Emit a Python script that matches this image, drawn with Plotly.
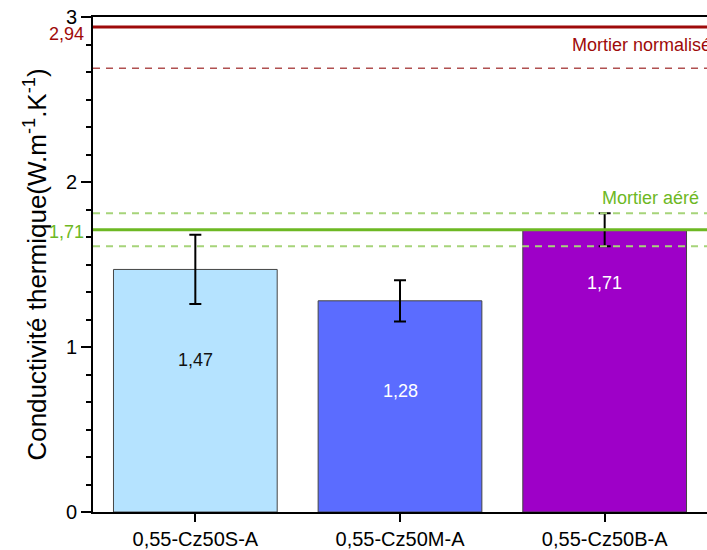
import plotly.graph_objects as go

categories = ["0,55-Cz50S-A", "0,55-Cz50M-A", "0,55-Cz50B-A"]
values = [1.47, 1.28, 1.71]
errors = [0.21, 0.125, 0.10]
value_labels = ["1,47", "1,28", "1,71"]
label_y = [0.92, 0.735, 1.39]
bar_colors = ["#B5E3FF", "#5B6CFF", "#9E00C8"]
label_colors = ["#111111", "#FFFFFF", "#FFFFFF"]

ref_normal = 2.94
ref_normal_dash = 2.69
ref_aere = 1.71
ref_aere_band = [1.81, 1.61]

FONT = "Liberation Sans, Arial, sans-serif"

fig = go.Figure()
fig.add_trace(go.Bar(
    x=categories, y=values, width=0.8,
    marker=dict(color=bar_colors, line=dict(color="#444444", width=1)),
    error_y=dict(type="data", array=errors, visible=True, color="black",
                 thickness=2, width=6),
    showlegend=False, hoverinfo="skip",
))

shapes = []
shapes.append(dict(type="line", xref="paper", yref="y", x0=0, x1=1,
                   y0=ref_normal, y1=ref_normal, line=dict(color="#9E0A0A", width=3)))
shapes.append(dict(type="line", xref="paper", yref="y", x0=0, x1=1,
                   y0=ref_normal_dash, y1=ref_normal_dash,
                   line=dict(color="#B05050", width=1.5, dash="7px,6px")))
shapes.append(dict(type="line", xref="paper", yref="y", x0=0, x1=1,
                   y0=ref_aere, y1=ref_aere, line=dict(color="#6DB823", width=3)))
for v in ref_aere_band:
    shapes.append(dict(type="line", xref="paper", yref="y", x0=0, x1=1,
                       y0=v, y1=v, line=dict(color="#A6D47A", width=2, dash="7px,6px")))

annotations = []
for c, t, ly, col in zip(categories, value_labels, label_y, label_colors):
    annotations.append(dict(x=c, y=ly, xref="x", yref="y", text=t, showarrow=False,
                            font=dict(family=FONT, size=18, color=col)))
annotations.append(dict(x=0, y=ref_normal, xref="paper", yref="y", text="2,94",
                        xanchor="right", yanchor="middle", xshift=-7, yshift=-7,
                        showarrow=False, font=dict(family=FONT, size=18, color="#9E0A0A")))
annotations.append(dict(x=0, y=ref_aere, xref="paper", yref="y", text="1,71",
                        xanchor="right", yanchor="middle", xshift=-7, yshift=-2,
                        showarrow=False, font=dict(family=FONT, size=18, color="#6DB823")))
annotations.append(dict(x=1, y=ref_normal, xref="paper", yref="y", text="Mortier normalisé",
                        xanchor="right", yanchor="middle", xshift=6, yshift=-18,
                        showarrow=False, font=dict(family=FONT, size=18, color="#9E0A0A")))
annotations.append(dict(x=1, y=ref_aere, xref="paper", yref="y", text="Mortier aéré",
                        xanchor="right", yanchor="middle", xshift=-6, yshift=32,
                        showarrow=False, font=dict(family=FONT, size=18, color="#6DB823")))

fig.update_layout(
    width=707, height=550,
    margin=dict(l=93, r=0, t=17, b=33),
    paper_bgcolor="white", plot_bgcolor="white",
    font=dict(family=FONT, color="black"),
    shapes=shapes, annotations=annotations,
    bargap=0.2,
)
fig.update_xaxes(
    range=[-0.5, 2.5], showline=True, linecolor="black", linewidth=2, mirror=True,
    ticks="outside", ticklen=8, tickwidth=2, tickcolor="black",
    tickfont=dict(family=FONT, size=20), showgrid=False, zeroline=False,
)
fig.update_yaxes(
    range=[0, 3], tickmode="array", tickvals=[0, 1, 2, 3], ticktext=["0", "1", "2", "3"],
    showline=True, linecolor="black", linewidth=2,
    ticks="outside", ticklen=10, tickwidth=2, tickcolor="black",
    minor=dict(dtick=1/6, tick0=0, ticks="outside", ticklen=5, tickwidth=2, tickcolor="black", showgrid=False),
    tickfont=dict(family=FONT, size=20), showgrid=False, zeroline=False,
    title=dict(text="Conductivité thermique(W.m<sup>-1</sup>.K<sup>-1</sup>)",
               font=dict(family=FONT, size=26), standoff=12),
)

fig.write_html(
    "out.html",
    config={"displayModeBar": False},
    post_script="document.body.style.margin='0';document.body.style.overflow='hidden';",
)
